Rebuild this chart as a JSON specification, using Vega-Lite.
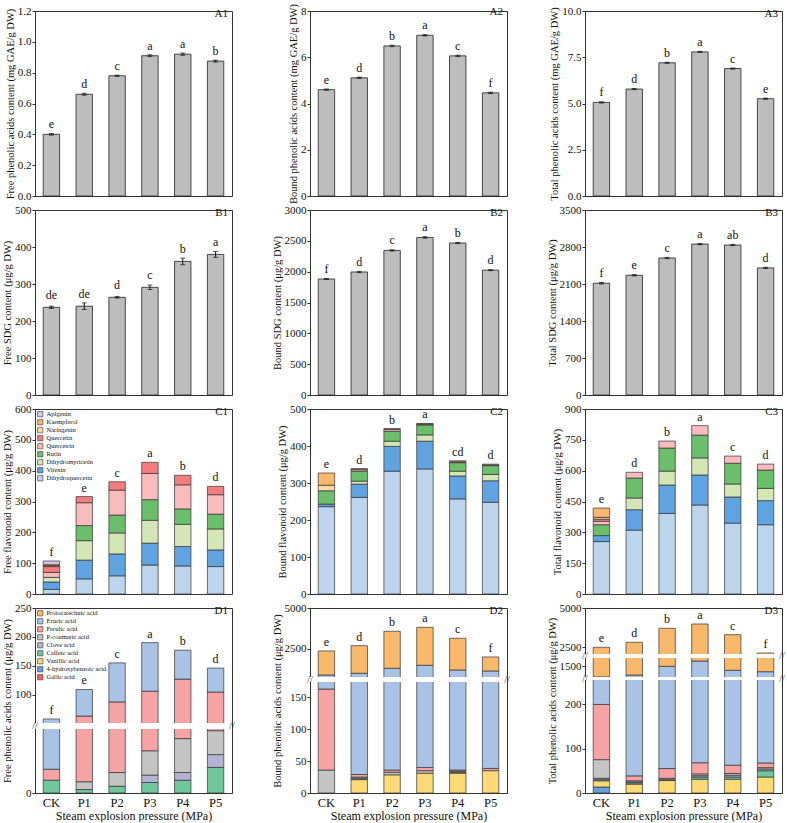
{
"$schema":"https://vega.github.io/schema/vega-lite/v6.json",
"padding":{"left":2,"top":2,"right":2,"bottom":0},
"columns":3,
"spacing":{"row":14,"column":78},
"bounds":"flush",
"resolve":{"scale":{"x":"independent","y":"independent","color":"independent"},"legend":{"color":"independent"}},
"config":{
 "font":"Liberation Serif",
 "view":{"stroke":"#333","strokeWidth":1},
 "axis":{"grid":false,"labelFont":"Liberation Serif","titleFont":"Liberation Serif","titleFontWeight":"normal","domainColor":"#333","tickColor":"#333","labelColor":"#111","titleColor":"#111"},
 "axisY":{"labelFontSize":11,"titleFontSize":10.5,"tickSize":3,"labelPadding":1,"titlePadding":2,"titleLimit":400,"labelOverlap":false,"tickCount":12},
 "axisX":{"labelFontSize":12.5,"titleFontSize":12,"ticks":false,"labelPadding":3,"titlePadding":2,"labelAngle":0},
 "legend":{"labelFont":"Liberation Serif","labelFontSize":6.5,"symbolType":"square","symbolSize":28,"symbolStrokeColor":"#333","symbolStrokeWidth":0.6,"rowPadding":-1.5,"orient":"top-left","offset":2,"padding":0,"labelOffset":3,"labelColor":"#111"},
 "title":{"font":"Liberation Serif","fontSize":11,"fontWeight":"normal","anchor":"end","frame":"group","offset":-14,"dx":-4,"color":"#111"},
 "text":{"font":"Liberation Serif","fontSize":12,"color":"#111"}
},
"concat":[
{"width":197,"height":185,"title":"A1",
 "data":{"values":[{"cat":"CK","v":0.40,"err":0.005,"letter":"e"},{"cat":"P1","v":0.66,"err":0.006,"letter":"d"},{"cat":"P2","v":0.78,"err":0.004,"letter":"c"},{"cat":"P3","v":0.91,"err":0.006,"letter":"a"},{"cat":"P4","v":0.92,"err":0.007,"letter":"a"},{"cat":"P5","v":0.875,"err":0.006,"letter":"b"}]},
 "encoding":{"x":{"field":"cat","type":"nominal","sort":null,"scale":{"paddingInner":0.5,"paddingOuter":0.25},"axis":null},
  "y":{"field":"v","type":"quantitative","scale":{"domain":[0,1.2],"nice":false},"axis":{"title":"Free phenolic acids content (mg GAE/g DW)","values":[0,0.2,0.4,0.6,0.8,1,1.2],"format":".1f","tickCount":12}}},
 "layer":[
  {"mark":{"type":"bar","fill":"#bdbdbd","stroke":"#222","strokeWidth":0.8}},
  {"mark":{"type":"errorbar","ticks":{"size":5},"color":"#111"},"encoding":{"yError":{"field":"err"}}},
  {"mark":{"type":"text","baseline":"bottom","dy":-3},"encoding":{"text":{"field":"letter"}}}
 ]},
{"width":197,"height":185,"title":"A2",
 "data":{"values":[{"cat":"CK","v":4.60,"err":0.03,"letter":"e"},{"cat":"P1","v":5.11,"err":0.03,"letter":"d"},{"cat":"P2","v":6.49,"err":0.03,"letter":"b"},{"cat":"P3","v":6.95,"err":0.03,"letter":"a"},{"cat":"P4","v":6.06,"err":0.03,"letter":"c"},{"cat":"P5","v":4.46,"err":0.03,"letter":"f"}]},
 "encoding":{"x":{"field":"cat","type":"nominal","sort":null,"scale":{"paddingInner":0.5,"paddingOuter":0.25},"axis":null},
  "y":{"field":"v","type":"quantitative","scale":{"domain":[0,8],"nice":false},"axis":{"title":"Bound phenolic acids content (mg GAE/g DW)","values":[0,2,4,6,8],"format":"d","tickCount":12}}},
 "layer":[
  {"mark":{"type":"bar","fill":"#bdbdbd","stroke":"#222","strokeWidth":0.8}},
  {"mark":{"type":"errorbar","ticks":{"size":5},"color":"#111"},"encoding":{"yError":{"field":"err"}}},
  {"mark":{"type":"text","baseline":"bottom","dy":-3},"encoding":{"text":{"field":"letter"}}}
 ]},
{"width":197,"height":185,"title":"A3",
 "data":{"values":[{"cat":"CK","v":5.06,"err":0.03,"letter":"f"},{"cat":"P1","v":5.78,"err":0.03,"letter":"d"},{"cat":"P2","v":7.20,"err":0.03,"letter":"b"},{"cat":"P3","v":7.79,"err":0.03,"letter":"a"},{"cat":"P4","v":6.89,"err":0.03,"letter":"c"},{"cat":"P5","v":5.26,"err":0.03,"letter":"e"}]},
 "encoding":{"x":{"field":"cat","type":"nominal","sort":null,"scale":{"paddingInner":0.5,"paddingOuter":0.25},"axis":null},
  "y":{"field":"v","type":"quantitative","scale":{"domain":[0,10],"nice":false},"axis":{"title":"Total phenolic acids content (mg GAE/g DW)","values":[0,2.5,5,7.5,10],"format":".1f","tickCount":12}}},
 "layer":[
  {"mark":{"type":"bar","fill":"#bdbdbd","stroke":"#222","strokeWidth":0.8}},
  {"mark":{"type":"errorbar","ticks":{"size":5},"color":"#111"},"encoding":{"yError":{"field":"err"}}},
  {"mark":{"type":"text","baseline":"bottom","dy":-3},"encoding":{"text":{"field":"letter"}}}
 ]},
{"width":197,"height":185,"title":"B1",
 "data":{"values":[{"cat":"CK","v":237,"err":3,"letter":"de"},{"cat":"P1","v":240,"err":9,"letter":"de"},{"cat":"P2","v":264,"err":2,"letter":"d"},{"cat":"P3","v":291,"err":6,"letter":"c"},{"cat":"P4","v":361,"err":9,"letter":"b"},{"cat":"P5","v":380,"err":8,"letter":"a"}]},
 "encoding":{"x":{"field":"cat","type":"nominal","sort":null,"scale":{"paddingInner":0.5,"paddingOuter":0.25},"axis":null},
  "y":{"field":"v","type":"quantitative","scale":{"domain":[0,500],"nice":false},"axis":{"title":"Free SDG content (μg/g DW)","values":[0,100,200,300,400,500],"format":"d","tickCount":12}}},
 "layer":[
  {"mark":{"type":"bar","fill":"#bdbdbd","stroke":"#222","strokeWidth":0.8}},
  {"mark":{"type":"errorbar","ticks":{"size":5},"color":"#111"},"encoding":{"yError":{"field":"err"}}},
  {"mark":{"type":"text","baseline":"bottom","dy":-5},"encoding":{"text":{"field":"letter"}}}
 ]},
{"width":197,"height":185,"title":"B2",
 "data":{"values":[{"cat":"CK","v":1881,"err":8,"letter":"f"},{"cat":"P1","v":1995,"err":10,"letter":"d"},{"cat":"P2","v":2345,"err":10,"letter":"c"},{"cat":"P3","v":2555,"err":12,"letter":"a"},{"cat":"P4","v":2465,"err":10,"letter":"b"},{"cat":"P5","v":2025,"err":8,"letter":"d"}]},
 "encoding":{"x":{"field":"cat","type":"nominal","sort":null,"scale":{"paddingInner":0.5,"paddingOuter":0.25},"axis":null},
  "y":{"field":"v","type":"quantitative","scale":{"domain":[0,3000],"nice":false},"axis":{"title":"Bound SDG content (μg/g DW)","values":[0,500,1000,1500,2000,2500,3000],"format":"d","tickCount":12}}},
 "layer":[
  {"mark":{"type":"bar","fill":"#bdbdbd","stroke":"#222","strokeWidth":0.8}},
  {"mark":{"type":"errorbar","ticks":{"size":5},"color":"#111"},"encoding":{"yError":{"field":"err"}}},
  {"mark":{"type":"text","baseline":"bottom","dy":-3},"encoding":{"text":{"field":"letter"}}}
 ]},
{"width":197,"height":185,"title":"B3",
 "data":{"values":[{"cat":"CK","v":2115,"err":15,"letter":"f"},{"cat":"P1","v":2265,"err":12,"letter":"e"},{"cat":"P2","v":2592,"err":12,"letter":"c"},{"cat":"P3","v":2855,"err":12,"letter":"a"},{"cat":"P4","v":2838,"err":12,"letter":"ab"},{"cat":"P5","v":2405,"err":12,"letter":"d"}]},
 "encoding":{"x":{"field":"cat","type":"nominal","sort":null,"scale":{"paddingInner":0.5,"paddingOuter":0.25},"axis":null},
  "y":{"field":"v","type":"quantitative","scale":{"domain":[0,3500],"nice":false},"axis":{"title":"Total SDG content (μg/g DW)","values":[0,700,1400,2100,2800,3500],"format":"d","tickCount":12}}},
 "layer":[
  {"mark":{"type":"bar","fill":"#bdbdbd","stroke":"#222","strokeWidth":0.8}},
  {"mark":{"type":"errorbar","ticks":{"size":5},"color":"#111"},"encoding":{"yError":{"field":"err"}}},
  {"mark":{"type":"text","baseline":"bottom","dy":-3},"encoding":{"text":{"field":"letter"}}}
 ]},
{"width":197,"height":185,"title":"C1",
 "data":{"values":[
  {"cat":"CK","comp":"Dihydroquercetin","v":15},{"cat":"CK","comp":"Vitexin","v":24},{"cat":"CK","comp":"Dihydromyricetin","v":15},{"cat":"CK","comp":"Quercetrin","v":16},{"cat":"CK","comp":"Quercetin","v":19},{"cat":"CK","comp":"Naringenin","v":3},{"cat":"CK","comp":"Kaempferol","v":3},{"cat":"CK","comp":"Apigenin","v":12},
  {"cat":"P1","comp":"Dihydroquercetin","v":49},{"cat":"P1","comp":"Vitexin","v":61},{"cat":"P1","comp":"Dihydromyricetin","v":63},{"cat":"P1","comp":"Rutin","v":49},{"cat":"P1","comp":"Quercetrin","v":74},{"cat":"P1","comp":"Quercetin","v":20},
  {"cat":"P2","comp":"Dihydroquercetin","v":59},{"cat":"P2","comp":"Vitexin","v":71},{"cat":"P2","comp":"Dihydromyricetin","v":68},{"cat":"P2","comp":"Rutin","v":58},{"cat":"P2","comp":"Quercetrin","v":81},{"cat":"P2","comp":"Quercetin","v":27},
  {"cat":"P3","comp":"Dihydroquercetin","v":94},{"cat":"P3","comp":"Vitexin","v":71},{"cat":"P3","comp":"Dihydromyricetin","v":74},{"cat":"P3","comp":"Rutin","v":67},{"cat":"P3","comp":"Quercetrin","v":85},{"cat":"P3","comp":"Quercetin","v":36},
  {"cat":"P4","comp":"Dihydroquercetin","v":91},{"cat":"P4","comp":"Vitexin","v":63},{"cat":"P4","comp":"Dihydromyricetin","v":72},{"cat":"P4","comp":"Rutin","v":50},{"cat":"P4","comp":"Quercetrin","v":78},{"cat":"P4","comp":"Quercetin","v":31},
  {"cat":"P5","comp":"Dihydroquercetin","v":89},{"cat":"P5","comp":"Vitexin","v":54},{"cat":"P5","comp":"Dihydromyricetin","v":68},{"cat":"P5","comp":"Rutin","v":48},{"cat":"P5","comp":"Quercetrin","v":63},{"cat":"P5","comp":"Quercetin","v":27}
 ]},
 "encoding":{"x":{"field":"cat","type":"nominal","sort":null,"scale":{"paddingInner":0.5,"paddingOuter":0.25},"axis":null},
  "y":{"field":"v","type":"quantitative","scale":{"domain":[0,600],"nice":false},"axis":{"title":"Free flavonoid content (μg/g DW)","values":[0,100,200,300,400,500,600],"format":"d","tickCount":12}}},
 "layer":[
  {"transform":[{"calculate":"indexof(['Dihydroquercetin','Vitexin','Dihydromyricetin','Rutin','Quercetrin','Quercetin','Naringenin','Kaempferol','Apigenin'],datum.comp)","as":"ord"}],
   "mark":{"type":"bar","stroke":"#333","strokeWidth":0.7},
   "encoding":{"color":{"field":"comp","type":"nominal","scale":{"domain":["Apigenin","Kaempferol","Naringenin","Quercetin","Quercetrin","Rutin","Dihydromyricetin","Vitexin","Dihydroquercetin"],"range":["#dcc5e1","#f9b86d","#fdd9a1","#f37d7d","#f8bcbc","#6bbf6b","#d4e6b6","#5fa3e1","#bdd4ed"]},"legend":{"title":null}},"order":{"field":"ord","type":"quantitative"}}},
  {"transform":[{"aggregate":[{"op":"sum","field":"v","as":"v"}],"groupby":["cat"]},{"lookup":"cat","from":{"data":{"values":[{"cat":"CK","letter":"f"},{"cat":"P1","letter":"e"},{"cat":"P2","letter":"c"},{"cat":"P3","letter":"a"},{"cat":"P4","letter":"b"},{"cat":"P5","letter":"d"}]},"key":"cat","fields":["letter"]}}],
   "mark":{"type":"text","baseline":"bottom","dy":-2},
   "encoding":{"text":{"field":"letter"}}}
 ]},
{"width":197,"height":185,"title":"C2",
 "data":{"values":[
  {"cat":"CK","comp":"Dihydroquercetin","v":236},{"cat":"CK","comp":"Vitexin","v":7},{"cat":"CK","comp":"Rutin","v":36},{"cat":"CK","comp":"Naringenin","v":15},{"cat":"CK","comp":"Kaempferol","v":33},
  {"cat":"P1","comp":"Dihydroquercetin","v":261},{"cat":"P1","comp":"Vitexin","v":36},{"cat":"P1","comp":"Dihydromyricetin","v":8},{"cat":"P1","comp":"Rutin","v":27},{"cat":"P1","comp":"Quercetrin","v":4},{"cat":"P1","comp":"Quercetin","v":3},
  {"cat":"P2","comp":"Dihydroquercetin","v":332},{"cat":"P2","comp":"Vitexin","v":67},{"cat":"P2","comp":"Dihydromyricetin","v":14},{"cat":"P2","comp":"Rutin","v":27},{"cat":"P2","comp":"Quercetrin","v":5},{"cat":"P2","comp":"Quercetin","v":2},
  {"cat":"P3","comp":"Dihydroquercetin","v":338},{"cat":"P3","comp":"Vitexin","v":75},{"cat":"P3","comp":"Dihydromyricetin","v":17},{"cat":"P3","comp":"Rutin","v":27},{"cat":"P3","comp":"Quercetrin","v":2},{"cat":"P3","comp":"Quercetin","v":2},
  {"cat":"P4","comp":"Dihydroquercetin","v":257},{"cat":"P4","comp":"Vitexin","v":62},{"cat":"P4","comp":"Dihydromyricetin","v":13},{"cat":"P4","comp":"Rutin","v":23},{"cat":"P4","comp":"Quercetrin","v":2},{"cat":"P4","comp":"Quercetin","v":3},
  {"cat":"P5","comp":"Dihydroquercetin","v":248},{"cat":"P5","comp":"Vitexin","v":58},{"cat":"P5","comp":"Dihydromyricetin","v":17},{"cat":"P5","comp":"Rutin","v":24},{"cat":"P5","comp":"Quercetin","v":2},{"cat":"P5","comp":"Apigenin","v":2}
 ]},
 "encoding":{"x":{"field":"cat","type":"nominal","sort":null,"scale":{"paddingInner":0.5,"paddingOuter":0.25},"axis":null},
  "y":{"field":"v","type":"quantitative","scale":{"domain":[0,500],"nice":false},"axis":{"title":"Bound flavonoid content (μg/g DW)","values":[0,100,200,300,400,500],"format":"d","tickCount":12}}},
 "layer":[
  {"transform":[{"calculate":"indexof(['Dihydroquercetin','Vitexin','Dihydromyricetin','Rutin','Quercetrin','Quercetin','Naringenin','Kaempferol','Apigenin'],datum.comp)","as":"ord"}],
   "mark":{"type":"bar","stroke":"#333","strokeWidth":0.7},
   "encoding":{"color":{"field":"comp","type":"nominal","scale":{"domain":["Apigenin","Kaempferol","Naringenin","Quercetin","Quercetrin","Rutin","Dihydromyricetin","Vitexin","Dihydroquercetin"],"range":["#dcc5e1","#f9b86d","#fdd9a1","#f37d7d","#f8bcbc","#6bbf6b","#d4e6b6","#5fa3e1","#bdd4ed"]},"legend":null},"order":{"field":"ord","type":"quantitative"}}},
  {"transform":[{"aggregate":[{"op":"sum","field":"v","as":"v"}],"groupby":["cat"]},{"lookup":"cat","from":{"data":{"values":[{"cat":"CK","letter":"e"},{"cat":"P1","letter":"d"},{"cat":"P2","letter":"b"},{"cat":"P3","letter":"a"},{"cat":"P4","letter":"cd"},{"cat":"P5","letter":"d"}]},"key":"cat","fields":["letter"]}}],
   "mark":{"type":"text","baseline":"bottom","dy":-2},
   "encoding":{"text":{"field":"letter"}}}
 ]},
{"width":197,"height":185,"title":"C3",
 "data":{"values":[
  {"cat":"CK","comp":"Dihydroquercetin","v":255},{"cat":"CK","comp":"Vitexin","v":29},{"cat":"CK","comp":"Rutin","v":53},{"cat":"CK","comp":"Quercetrin","v":17},{"cat":"CK","comp":"Quercetin","v":10},{"cat":"CK","comp":"Naringenin","v":9},{"cat":"CK","comp":"Kaempferol","v":45},
  {"cat":"P1","comp":"Dihydroquercetin","v":311},{"cat":"P1","comp":"Vitexin","v":99},{"cat":"P1","comp":"Dihydromyricetin","v":57},{"cat":"P1","comp":"Rutin","v":97},{"cat":"P1","comp":"Quercetrin","v":28},
  {"cat":"P2","comp":"Dihydroquercetin","v":392},{"cat":"P2","comp":"Vitexin","v":138},{"cat":"P2","comp":"Dihydromyricetin","v":68},{"cat":"P2","comp":"Rutin","v":112},{"cat":"P2","comp":"Quercetrin","v":34},
  {"cat":"P3","comp":"Dihydroquercetin","v":433},{"cat":"P3","comp":"Vitexin","v":146},{"cat":"P3","comp":"Dihydromyricetin","v":83},{"cat":"P3","comp":"Rutin","v":111},{"cat":"P3","comp":"Quercetrin","v":46},
  {"cat":"P4","comp":"Dihydroquercetin","v":345},{"cat":"P4","comp":"Vitexin","v":127},{"cat":"P4","comp":"Dihydromyricetin","v":63},{"cat":"P4","comp":"Rutin","v":101},{"cat":"P4","comp":"Quercetrin","v":35},
  {"cat":"P5","comp":"Dihydroquercetin","v":337},{"cat":"P5","comp":"Vitexin","v":117},{"cat":"P5","comp":"Dihydromyricetin","v":60},{"cat":"P5","comp":"Rutin","v":89},{"cat":"P5","comp":"Quercetrin","v":29}
 ]},
 "encoding":{"x":{"field":"cat","type":"nominal","sort":null,"scale":{"paddingInner":0.5,"paddingOuter":0.25},"axis":null},
  "y":{"field":"v","type":"quantitative","scale":{"domain":[0,900],"nice":false},"axis":{"title":"Total flavonoid content (μg/g DW)","values":[0,150,300,450,600,750,900],"format":"d","tickCount":12}}},
 "layer":[
  {"transform":[{"calculate":"indexof(['Dihydroquercetin','Vitexin','Dihydromyricetin','Rutin','Quercetrin','Quercetin','Naringenin','Kaempferol','Apigenin'],datum.comp)","as":"ord"}],
   "mark":{"type":"bar","stroke":"#333","strokeWidth":0.7},
   "encoding":{"color":{"field":"comp","type":"nominal","scale":{"domain":["Apigenin","Kaempferol","Naringenin","Quercetin","Quercetrin","Rutin","Dihydromyricetin","Vitexin","Dihydroquercetin"],"range":["#dcc5e1","#f9b86d","#fdd9a1","#f37d7d","#f8bcbc","#6bbf6b","#d4e6b6","#5fa3e1","#bdd4ed"]},"legend":null},"order":{"field":"ord","type":"quantitative"}}},
  {"transform":[{"aggregate":[{"op":"sum","field":"v","as":"v"}],"groupby":["cat"]},{"lookup":"cat","from":{"data":{"values":[{"cat":"CK","letter":"e"},{"cat":"P1","letter":"d"},{"cat":"P2","letter":"b"},{"cat":"P3","letter":"a"},{"cat":"P4","letter":"c"},{"cat":"P5","letter":"d"}]},"key":"cat","fields":["letter"]}}],
   "mark":{"type":"text","baseline":"bottom","dy":-2},
   "encoding":{"text":{"field":"letter"}}}
 ]},
{"width":197,"height":185,"title":"D1",
 "data":{"values":[
  {"cat":"CK","comp":"Caffeic acid","v":10},{"cat":"CK","comp":"Ferulic acid","v":8.6},{"cat":"CK","comp":"Erucic acid","v":39.4},
  {"cat":"P1","comp":"Caffeic acid","v":2.7},{"cat":"P1","comp":"P-coumaric acid","v":6.1},{"cat":"P1","comp":"Ferulic acid","v":54.2},{"cat":"P1","comp":"Erucic acid","v":46},
  {"cat":"P2","comp":"Caffeic acid","v":5.3},{"cat":"P2","comp":"P-coumaric acid","v":10.7},{"cat":"P2","comp":"Ferulic acid","v":71.5},{"cat":"P2","comp":"Erucic acid","v":67.5},
  {"cat":"P3","comp":"Caffeic acid","v":8.2},{"cat":"P3","comp":"Clove acid","v":5.8},{"cat":"P3","comp":"P-coumaric acid","v":19},{"cat":"P3","comp":"Ferulic acid","v":73},{"cat":"P3","comp":"Erucic acid","v":84},
  {"cat":"P4","comp":"Caffeic acid","v":10},{"cat":"P4","comp":"Clove acid","v":6},{"cat":"P4","comp":"P-coumaric acid","v":26.5},{"cat":"P4","comp":"Ferulic acid","v":84.5},{"cat":"P4","comp":"Erucic acid","v":50},
  {"cat":"P5","comp":"Caffeic acid","v":20},{"cat":"P5","comp":"Clove acid","v":10},{"cat":"P5","comp":"P-coumaric acid","v":18.7},{"cat":"P5","comp":"Ferulic acid","v":55.8},{"cat":"P5","comp":"Erucic acid","v":41.5}
 ]},
 "layer":[
  {"transform":[{"calculate":"indexof(['Gallic acid','4-hydroxybenzoic acid','Vanillic acid','Caffeic acid','Clove acid','P-coumaric acid','Ferulic acid','Erucic acid','Protocatechuic acid'],datum.comp)","as":"ord"}],
   "mark":{"type":"bar","stroke":"#333","strokeWidth":0.7},
   "encoding":{"x":{"field":"cat","type":"nominal","sort":null,"scale":{"paddingInner":0.5,"paddingOuter":0.25},"axis":{"title":"Steam explosion pressure (MPa)"}},
    "y":{"field":"v","type":"quantitative","scale":{"domain":[0,50,51,250],"range":[185,121,115,0],"nice":false,"zero":false},"axis":{"title":"Free phenolic acids content (μg/g DW)","values":[0,100,150,200,250],"format":"d","labelOverlap":false,"tickCount":12}},
    "color":{"field":"comp","type":"nominal","scale":{"domain":["Protocatechuic acid","Erucic acid","Ferulic acid","P-coumaric acid","Clove acid","Caffeic acid","Vanillic acid","4-hydroxybenzoic acid","Gallic acid"],"range":["#f9b96b","#a9c3e6","#f6a3a3","#c4c4c4","#b5b1d5","#6ec89c","#fdda76","#6a9fd9","#ef6262"]},"legend":{"title":null}},"order":{"field":"ord","type":"quantitative"}}},
  {"data":{"values":[{}]},"mark":{"type":"rect","fill":"white"},"encoding":{"x":{"value":0},"x2":{"value":"width"},"y":{"datum":50},"y2":{"datum":51}}},
  {"data":{"values":[{}]},"mark":{"type":"text","text":"//","fontSize":10,"color":"#333"},"encoding":{"x":{"value":0},"y":{"datum":50.5}}},
  {"data":{"values":[{}]},"mark":{"type":"text","text":"//","fontSize":10,"color":"#333"},"encoding":{"x":{"value":"width"},"y":{"datum":50.5}}},
  {"transform":[{"aggregate":[{"op":"sum","field":"v","as":"v"}],"groupby":["cat"]},{"lookup":"cat","from":{"data":{"values":[{"cat":"CK","letter":"f"},{"cat":"P1","letter":"e"},{"cat":"P2","letter":"c"},{"cat":"P3","letter":"a"},{"cat":"P4","letter":"b"},{"cat":"P5","letter":"d"}]},"key":"cat","fields":["letter"]}}],
   "mark":{"type":"text","baseline":"bottom","dy":-2},
   "encoding":{"x":{"field":"cat","type":"nominal","sort":null},"y":{"field":"v","type":"quantitative","scale":{"domain":[0,50,51,250],"range":[185,121,115,0],"nice":false,"zero":false},"axis":{"title":"Free phenolic acids content (μg/g DW)","values":[0,100,150,200,250],"format":"d","labelOverlap":false,"tickCount":12}},"text":{"field":"letter"}}}
 ]},
{"width":197,"height":185,"title":"D2",
 "data":{"values":[
  {"cat":"CK","comp":"P-coumaric acid","v":36},{"cat":"CK","comp":"Ferulic acid","v":127},{"cat":"CK","comp":"Erucic acid","v":723},{"cat":"CK","comp":"Protocatechuic acid","v":1474},
  {"cat":"P1","comp":"Vanillic acid","v":21},{"cat":"P1","comp":"Caffeic acid","v":2},{"cat":"P1","comp":"P-coumaric acid","v":2},{"cat":"P1","comp":"Ferulic acid","v":4},{"cat":"P1","comp":"Erucic acid","v":961},{"cat":"P1","comp":"Protocatechuic acid","v":1695},
  {"cat":"P2","comp":"Vanillic acid","v":28.5},{"cat":"P2","comp":"P-coumaric acid","v":4},{"cat":"P2","comp":"Ferulic acid","v":3.5},{"cat":"P2","comp":"Erucic acid","v":1261},{"cat":"P2","comp":"Protocatechuic acid","v":2273},
  {"cat":"P3","comp":"Vanillic acid","v":31},{"cat":"P3","comp":"P-coumaric acid","v":4},{"cat":"P3","comp":"Ferulic acid","v":5},{"cat":"P3","comp":"Erucic acid","v":1442},{"cat":"P3","comp":"Protocatechuic acid","v":2333},
  {"cat":"P4","comp":"Vanillic acid","v":31},{"cat":"P4","comp":"Caffeic acid","v":1.5},{"cat":"P4","comp":"P-coumaric acid","v":1.5},{"cat":"P4","comp":"Ferulic acid","v":2},{"cat":"P4","comp":"Erucic acid","v":1157},{"cat":"P4","comp":"Protocatechuic acid","v":1947},
  {"cat":"P5","comp":"Vanillic acid","v":35},{"cat":"P5","comp":"Ferulic acid","v":3.5},{"cat":"P5","comp":"Erucic acid","v":1093.5},{"cat":"P5","comp":"Protocatechuic acid","v":859}
 ]},
 "layer":[
  {"transform":[{"calculate":"indexof(['Gallic acid','4-hydroxybenzoic acid','Vanillic acid','Caffeic acid','Clove acid','P-coumaric acid','Ferulic acid','Erucic acid','Protocatechuic acid'],datum.comp)","as":"ord"}],
   "mark":{"type":"bar","stroke":"#333","strokeWidth":0.7},
   "encoding":{"x":{"field":"cat","type":"nominal","sort":null,"scale":{"paddingInner":0.5,"paddingOuter":0.25},"axis":{"title":"Steam explosion pressure (MPa)"}},
    "y":{"field":"v","type":"quantitative","scale":{"domain":[0,174,760,5000],"range":[185,74,69,0],"nice":false,"zero":false},"axis":{"title":"Bound phenolic acids content (μg/g DW)","values":[0,50,100,150,2500,5000],"format":"d","labelOverlap":false,"tickCount":12}},
    "color":{"field":"comp","type":"nominal","scale":{"domain":["Protocatechuic acid","Erucic acid","Ferulic acid","P-coumaric acid","Clove acid","Caffeic acid","Vanillic acid","4-hydroxybenzoic acid","Gallic acid"],"range":["#f9b96b","#a9c3e6","#f6a3a3","#c4c4c4","#b5b1d5","#6ec89c","#fdda76","#6a9fd9","#ef6262"]},"legend":null},"order":{"field":"ord","type":"quantitative"}}},
  {"data":{"values":[{}]},"mark":{"type":"rect","fill":"white"},"encoding":{"x":{"value":0},"x2":{"value":"width"},"y":{"datum":174},"y2":{"datum":760}}},
  {"data":{"values":[{}]},"mark":{"type":"text","text":"//","fontSize":10,"color":"#333"},"encoding":{"x":{"value":0},"y":{"datum":467}}},
  {"data":{"values":[{}]},"mark":{"type":"text","text":"//","fontSize":10,"color":"#333"},"encoding":{"x":{"value":"width"},"y":{"datum":467}}},
  {"transform":[{"aggregate":[{"op":"sum","field":"v","as":"v"}],"groupby":["cat"]},{"lookup":"cat","from":{"data":{"values":[{"cat":"CK","letter":"e"},{"cat":"P1","letter":"d"},{"cat":"P2","letter":"b"},{"cat":"P3","letter":"a"},{"cat":"P4","letter":"c"},{"cat":"P5","letter":"f"}]},"key":"cat","fields":["letter"]}}],
   "mark":{"type":"text","baseline":"bottom","dy":-2},
   "encoding":{"x":{"field":"cat","type":"nominal","sort":null},"y":{"field":"v","type":"quantitative","scale":{"domain":[0,174,760,5000],"range":[185,74,69,0],"nice":false,"zero":false},"axis":{"title":"Bound phenolic acids content (μg/g DW)","values":[0,50,100,150,2500,5000],"format":"d","labelOverlap":false,"tickCount":12}},"text":{"field":"letter"}}}
 ]},
{"width":197,"height":185,"title":"D3",
 "data":{"values":[
  {"cat":"CK","comp":"4-hydroxybenzoic acid","v":13.4},{"cat":"CK","comp":"Vanillic acid","v":14.1},{"cat":"CK","comp":"Caffeic acid","v":2.5},{"cat":"CK","comp":"Clove acid","v":3},{"cat":"CK","comp":"P-coumaric acid","v":42},{"cat":"CK","comp":"Ferulic acid","v":124},{"cat":"CK","comp":"Erucic acid","v":906},{"cat":"CK","comp":"Protocatechuic acid","v":1392},
  {"cat":"P1","comp":"Vanillic acid","v":20},{"cat":"P1","comp":"Caffeic acid","v":3},{"cat":"P1","comp":"Clove acid","v":2},{"cat":"P1","comp":"P-coumaric acid","v":2.5},{"cat":"P1","comp":"Ferulic acid","v":11},{"cat":"P1","comp":"Erucic acid","v":1135.5},{"cat":"P1","comp":"Protocatechuic acid","v":1641},
  {"cat":"P2","comp":"Vanillic acid","v":28},{"cat":"P2","comp":"Caffeic acid","v":2},{"cat":"P2","comp":"P-coumaric acid","v":3},{"cat":"P2","comp":"Ferulic acid","v":22},{"cat":"P2","comp":"Erucic acid","v":1439},{"cat":"P2","comp":"Protocatechuic acid","v":2213},
  {"cat":"P3","comp":"Vanillic acid","v":31},{"cat":"P3","comp":"Caffeic acid","v":5},{"cat":"P3","comp":"Clove acid","v":3},{"cat":"P3","comp":"P-coumaric acid","v":4},{"cat":"P3","comp":"Ferulic acid","v":25},{"cat":"P3","comp":"Erucic acid","v":1622},{"cat":"P3","comp":"Protocatechuic acid","v":2291},
  {"cat":"P4","comp":"Vanillic acid","v":31},{"cat":"P4","comp":"Caffeic acid","v":5},{"cat":"P4","comp":"Clove acid","v":4},{"cat":"P4","comp":"P-coumaric acid","v":4},{"cat":"P4","comp":"Ferulic acid","v":18.5},{"cat":"P4","comp":"Erucic acid","v":1284.5},{"cat":"P4","comp":"Protocatechuic acid","v":1953},
  {"cat":"P5","comp":"Vanillic acid","v":36},{"cat":"P5","comp":"Caffeic acid","v":14},{"cat":"P5","comp":"Clove acid","v":4},{"cat":"P5","comp":"P-coumaric acid","v":3},{"cat":"P5","comp":"Ferulic acid","v":10.5},{"cat":"P5","comp":"Erucic acid","v":1227.5},{"cat":"P5","comp":"Protocatechuic acid","v":838}
 ]},
 "layer":[
  {"transform":[{"calculate":"indexof(['Gallic acid','4-hydroxybenzoic acid','Vanillic acid','Caffeic acid','Clove acid','P-coumaric acid','Ferulic acid','Erucic acid','Protocatechuic acid'],datum.comp)","as":"ord"}],
   "mark":{"type":"bar","stroke":"#333","strokeWidth":0.7},
   "encoding":{"x":{"field":"cat","type":"nominal","sort":null,"scale":{"paddingInner":0.5,"paddingOuter":0.25},"axis":{"title":"Steam explosion pressure (MPa)"}},
    "y":{"field":"v","type":"quantitative","scale":{"domain":[0,254,1100,1800,2070,5000],"range":[185,72,69,50,46,0],"nice":false,"zero":false},"axis":{"title":"Total phenolic acids content (μg/g DW)","values":[0,100,200,1500,2500,5000],"format":"d","labelOverlap":false,"tickCount":12}},
    "color":{"field":"comp","type":"nominal","scale":{"domain":["Protocatechuic acid","Erucic acid","Ferulic acid","P-coumaric acid","Clove acid","Caffeic acid","Vanillic acid","4-hydroxybenzoic acid","Gallic acid"],"range":["#f9b96b","#a9c3e6","#f6a3a3","#c4c4c4","#b5b1d5","#6ec89c","#fdda76","#6a9fd9","#ef6262"]},"legend":null},"order":{"field":"ord","type":"quantitative"}}},
  {"data":{"values":[{}]},"mark":{"type":"rect","fill":"white"},"encoding":{"x":{"value":0},"x2":{"value":"width"},"y":{"datum":254},"y2":{"datum":1100}}},
  {"data":{"values":[{}]},"mark":{"type":"rect","fill":"white"},"encoding":{"x":{"value":0},"x2":{"value":"width"},"y":{"datum":1800},"y2":{"datum":2070}}},
  {"data":{"values":[{}]},"mark":{"type":"text","text":"//","fontSize":10,"color":"#333"},"encoding":{"x":{"value":0},"y":{"datum":677}}},
  {"data":{"values":[{}]},"mark":{"type":"text","text":"//","fontSize":10,"color":"#333"},"encoding":{"x":{"value":"width"},"y":{"datum":677}}},
  {"data":{"values":[{}]},"mark":{"type":"text","text":"//","fontSize":10,"color":"#333"},"encoding":{"x":{"value":0},"y":{"datum":1935}}},
  {"data":{"values":[{}]},"mark":{"type":"text","text":"//","fontSize":10,"color":"#333"},"encoding":{"x":{"value":"width"},"y":{"datum":1935}}},
  {"transform":[{"aggregate":[{"op":"sum","field":"v","as":"v"}],"groupby":["cat"]},{"lookup":"cat","from":{"data":{"values":[{"cat":"CK","letter":"e"},{"cat":"P1","letter":"d"},{"cat":"P2","letter":"b"},{"cat":"P3","letter":"a"},{"cat":"P4","letter":"c"},{"cat":"P5","letter":"f"}]},"key":"cat","fields":["letter"]}}],
   "mark":{"type":"text","baseline":"bottom","dy":-2},
   "encoding":{"x":{"field":"cat","type":"nominal","sort":null},"y":{"field":"v","type":"quantitative","scale":{"domain":[0,254,1100,1800,2070,5000],"range":[185,72,69,50,46,0],"nice":false,"zero":false},"axis":{"title":"Total phenolic acids content (μg/g DW)","values":[0,100,200,1500,2500,5000],"format":"d","labelOverlap":false,"tickCount":12}},"text":{"field":"letter"}}}
 ]}
]
}
